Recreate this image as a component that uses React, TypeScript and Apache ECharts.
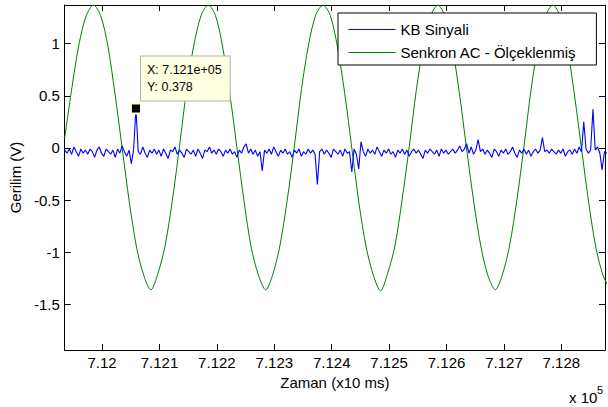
import React, { useEffect, useRef } from "react";
import * as echarts from "echarts";

// ---- data ----
const xMin = 711935;
const xMax = 712876;
const yMin = -1.937;
const yMax = 1.371;

const seriesNames = ["KB Sinyali", "Senkron AC - Ölçeklenmiş"];

// KB signal samples (start + step in x10 ms units)
const blueStart = 711935;
const blueStep = 4;
const blueValues = [
  -0.02, -0.05, -0.01, -0.06, 0.01, -0.035, -0.08, -0.01, -0.05, -0.02,
  -0.06, -0.01, -0.035, -0.09, -0.02, 0.01, -0.05, -0.08, -0.01, -0.035,
  -0.06, -0.02, -0.09, -0.01, -0.05, 0.02, -0.035, -0.08, -0.02, -0.15,
  -0.01, 0.378, -0.035, -0.06, 0.01, -0.05, -0.09, -0.02, -0.05, -0.01,
  -0.06, -0.02, -0.08, -0.01, -0.05, -0.1, -0.02, -0.035, 0.01, -0.06,
  -0.02, -0.05, -0.09, -0.01, -0.035, -0.06, -0.02, -0.08, -0.01, -0.05,
  -0.1, -0.02, -0.035, 0.01, -0.05, -0.02, -0.06, -0.01, -0.035, -0.08,
  -0.02, -0.05, -0.01, -0.06, -0.035, -0.09, -0.02, -0.05, 0.01, 0.04,
  -0.05, -0.01, -0.06, -0.02, -0.08, -0.035, -0.22, -0.02, -0.05, -0.01,
  -0.06, 0.01, -0.035, -0.08, -0.02, -0.05, -0.01, -0.06, -0.035, -0.09,
  -0.02, -0.05, -0.01, -0.08, -0.035, -0.06, -0.01, -0.05, -0.02, -0.06,
  -0.35, -0.035, -0.01, -0.06, -0.02, -0.05, -0.09, -0.01, -0.035, -0.06,
  -0.02, -0.08, -0.01, -0.05, -0.035, -0.23, -0.01, -0.06, -0.2, 0.06,
  -0.035, -0.08, -0.01, -0.05, -0.02, -0.06, 0.01, -0.035, -0.08, -0.02,
  -0.05, -0.01, -0.06, -0.035, -0.09, -0.02, -0.05, -0.01, -0.06, -0.02,
  -0.08, -0.035, -0.01, -0.05, -0.02, -0.06, -0.1, -0.02, -0.05, -0.01,
  -0.035, -0.06, -0.02, -0.08, -0.01, -0.05, -0.02, -0.06, -0.035, -0.01,
  -0.05, -0.02, 0.02, -0.035, -0.01, 0.04, -0.05, 0.01, -0.06, -0.02,
  0.08, -0.035, -0.01, -0.06, -0.02, -0.05, -0.09, -0.01, -0.035, -0.08,
  -0.02, -0.05, -0.01, -0.06, -0.035, 0.01, -0.05, -0.09, -0.02, -0.05,
  -0.01, -0.06, -0.02, -0.08, -0.035, -0.01, -0.05, -0.02, 0.1, -0.035,
  -0.02, -0.05, -0.01, -0.035, -0.06, -0.02, -0.05, -0.01, -0.08, -0.035,
  -0.02, -0.06, -0.01, -0.05, 0.01, -0.035, 0.25, -0.01, -0.05, -0.02,
  0.37, -0.02, 0.01, -0.05, -0.21, -0.035, -0.05,
];

// Scaled AC reference samples
const greenStart = 711935;
const greenStep = 12.5;
const greenValues = [
  0.1, 0.58, 1.0, 1.27, 1.37, 1.27, 0.98, 0.52, 0.0, -0.52, -0.95, -1.22, -1.36, -1.2, -0.93, -0.5,
  0.02, 0.57, 0.99, 1.27, 1.37, 1.27, 0.97, 0.52, 0.0, -0.52, -0.96, -1.22, -1.36, -1.21, -0.93, -0.5,
  0.02, 0.57, 1.0, 1.28, 1.37, 1.27, 0.97, 0.53, 0.0, -0.53, -0.95, -1.22, -1.37, -1.2, -0.94, -0.5,
  0.01, 0.56, 0.99, 1.27, 1.37, 1.26, 0.97, 0.52, -0.01, -0.52, -0.95, -1.23, -1.36, -1.21, -0.93, -0.5,
  0.02, 0.57, 1.0, 1.27, 1.37, 1.27, 0.98, 0.52, 0.0, -0.52, -0.95, -1.22, -1.36,
];

// data tip
const tipX = 712059;
const tipY = 0.378;

function fmtExp(v: number) {
  const [m, e] = v.toExponential(3).split("e");
  const sign = e[0];
  const digits = e.slice(1).padStart(2, "0");
  return `${m}e${sign}${digits}`;
}

export default function App() {
  const ref = useRef<HTMLDivElement>(null);
  useEffect(() => {
    if (!ref.current) return;
    const chart = echarts.init(ref.current, null, { renderer: "svg" });
    const font = "Liberation Sans, Arial, Helvetica, sans-serif";
    const blueData = blueValues.map((v, i) => [blueStart + i * blueStep, v]);
    const greenData = greenValues.map((v, i) => [greenStart + i * greenStep, v]);
    const axisColor = "#000";
    const xLabel = (v: number) => {
      const r = Math.round(v);
      if (Math.abs(v - r) > 1e-6 || r % 100 !== 0) return "";
      return String(r / 1e5);
    };
    const yLabel = (v: number) => {
      const k = Math.round(v * 2);
      if (Math.abs(v * 2 - k) > 1e-6) return "";
      return String(k / 2);
    };
    const tickCommon = { show: true, inside: true, length: 6, lineStyle: { color: axisColor, width: 1 } };
    const lineCommon = { show: true, onZero: false, lineStyle: { color: axisColor, width: 1 } };
    chart.setOption({
      animation: false,
      backgroundColor: "#fff",
      textStyle: { fontFamily: font },
      grid: { left: 64, top: 5, width: 545, height: 345, show: false },
      legend: {
        orient: "vertical",
        left: 338,
        top: 13,
        padding: [9, 20, 5, 10],
        itemGap: 8,
        itemWidth: 47,
        itemHeight: 14,
        backgroundColor: "#fff",
        borderColor: "#000",
        borderWidth: 1,
        borderRadius: 0,
        itemStyle: { opacity: 0 },
        lineStyle: { width: 1 },
        textStyle: { fontSize: 15, color: "#000", fontFamily: font },
        data: seriesNames,
      },
      xAxis: [
        {
          type: "value",
          min: xMin,
          max: xMax,
          splitNumber: 9,
          position: "bottom",
          name: "Zaman (x10 ms)",
          nameLocation: "middle",
          nameGap: 24,
          nameTextStyle: { fontSize: 15, color: "#000", fontFamily: font },
          axisLine: lineCommon,
          axisTick: tickCommon,
          axisLabel: { formatter: xLabel, fontSize: 15, color: "#000", margin: 5, fontFamily: font },
          splitLine: { show: false },
        },
        {
          type: "value",
          min: xMin,
          max: xMax,
          splitNumber: 9,
          position: "top",
          axisLine: lineCommon,
          axisTick: tickCommon,
          axisLabel: { show: false },
          splitLine: { show: false },
        },
      ],
      yAxis: [
        {
          type: "value",
          min: yMin,
          max: yMax,
          splitNumber: 7,
          position: "left",
          name: "Gerilim (V)",
          nameLocation: "middle",
          nameGap: 41,
          nameTextStyle: { fontSize: 15, color: "#000", fontFamily: font },
          axisLine: lineCommon,
          axisTick: tickCommon,
          axisLabel: { formatter: yLabel, fontSize: 15, color: "#000", margin: 5, fontFamily: font },
          splitLine: { show: false },
        },
        {
          type: "value",
          min: yMin,
          max: yMax,
          splitNumber: 7,
          position: "right",
          axisLine: lineCommon,
          axisTick: tickCommon,
          axisLabel: { show: false },
          splitLine: { show: false },
        },
      ],
      series: [
        {
          name: seriesNames[0],
          type: "line",
          xAxisIndex: 0,
          yAxisIndex: 0,
          data: blueData,
          symbol: "none",
          color: "#0000ff",
          lineStyle: { color: "#0000ff", width: 1.1 },
          z: 3,
          markPoint: {
            symbol: "rect",
            symbolSize: 10,
            itemStyle: { color: "#000", borderColor: "#ffffcc", borderWidth: 2, opacity: 1 },
            label: {
              show: true,
              position: [11, -46],
              formatter: `X: ${fmtExp(tipX)}\nY: ${tipY}`,
              backgroundColor: "#ffffe1",
              borderColor: "#b0b0b0",
              borderWidth: 1,
              padding: [5, 8, 5, 6],
              fontSize: 12.5,
              lineHeight: 17,
              color: "#000",
              fontFamily: font,
              align: "left",
              verticalAlign: "top",
            },
            data: [{ coord: [tipX, tipY] }],
          },
        },
        {
          name: seriesNames[1],
          type: "line",
          xAxisIndex: 0,
          yAxisIndex: 0,
          data: greenData,
          symbol: "none",
          smooth: 0.3,
          color: "#008000",
          lineStyle: { color: "#008000", width: 1 },
          z: 2,
        },
      ],
      graphic: [
        { type: "text", left: 569, top: 390, style: { text: "x 10", fontSize: 15, fontFamily: font, fill: "#000" } },
        { type: "text", left: 597, top: 384, style: { text: "5", fontSize: 11, fontFamily: font, fill: "#000" } },
      ],
    });
    return () => chart.dispose();
  }, []);
  return <div ref={ref} style={{ position: "absolute", left: 0, top: 0, width: 608, height: 407 }} />;
}
